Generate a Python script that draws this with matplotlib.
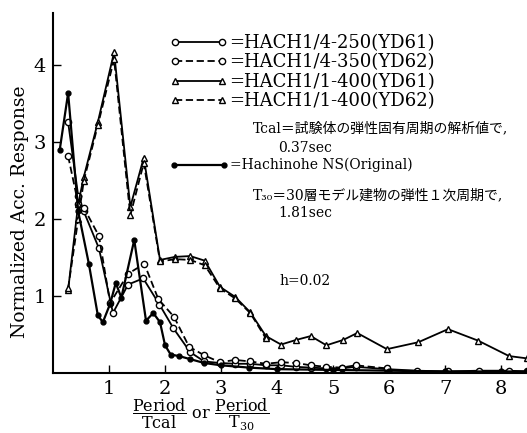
import matplotlib
matplotlib.use("Agg")
import matplotlib.pyplot as plt

plt.rcParams['font.family'] = ['DejaVu Serif', 'Noto Sans CJK JP']
plt.rcParams['mathtext.fontset'] = 'dejavuserif'

# Hachinohe NS (Original)
x_hachi = [0.12, 0.27, 0.45, 0.64, 0.80, 0.89, 1.02, 1.12, 1.22, 1.45, 1.66, 1.79, 1.91,
           2.00, 2.10, 2.25, 2.45, 2.70, 3.00, 3.50, 4.00, 5.00, 6.00, 7.00, 8.00, 8.46]
y_hachi = [2.90, 3.64, 2.10, 1.42, 0.75, 0.66, 0.90, 1.17, 0.98, 1.73, 0.68, 0.78, 0.66,
           0.36, 0.24, 0.22, 0.18, 0.13, 0.10, 0.07, 0.05, 0.04, 0.03, 0.02, 0.02, 0.02]

# HACH1/4-250 (YD61)
x_250 = [0.27, 0.45, 0.55, 0.82, 1.07, 1.34, 1.61, 1.90, 2.15, 2.45, 2.70, 2.98, 3.25,
         3.52, 3.80, 4.07, 4.34, 4.60, 4.88, 5.15, 5.40, 5.96, 6.50, 7.05, 7.60, 8.13, 8.46]
y_250 = [3.26, 2.30, 2.10, 1.62, 0.78, 1.15, 1.23, 0.89, 0.58, 0.27, 0.15, 0.13, 0.12,
         0.12, 0.10, 0.10, 0.08, 0.07, 0.06, 0.06, 0.08, 0.05, 0.03, 0.02, 0.03, 0.03, 0.02]

# HACH1/4-350 (YD62)
x_350 = [0.27, 0.45, 0.55, 0.82, 1.02, 1.34, 1.63, 1.88, 2.16, 2.43, 2.70, 2.98, 3.25,
         3.52, 3.80, 4.07, 4.34, 4.60, 4.88, 5.15, 5.40, 5.96]
y_350 = [2.82, 2.20, 2.15, 1.78, 0.91, 1.29, 1.42, 0.96, 0.73, 0.34, 0.23, 0.14, 0.17,
         0.15, 0.12, 0.14, 0.13, 0.10, 0.08, 0.07, 0.10, 0.06]

# HACH1/1-400 (YD61)
x_400a = [0.27, 0.45, 0.55, 0.80, 1.09, 1.38, 1.62, 1.91, 2.18, 2.45, 2.71, 2.98, 3.25,
          3.52, 3.80, 4.07, 4.34, 4.60, 4.88, 5.18, 5.43, 5.96, 6.52, 7.05, 7.59, 8.14, 8.46]
y_400a = [1.08, 2.20, 2.55, 3.26, 4.17, 2.16, 2.80, 1.47, 1.51, 1.52, 1.46, 1.12, 0.99,
          0.79, 0.48, 0.37, 0.43, 0.48, 0.36, 0.43, 0.52, 0.31, 0.40, 0.57, 0.42, 0.22, 0.19]

# HACH1/1-400 (YD62)
x_400b = [0.27, 0.45, 0.55, 0.80, 1.09, 1.38, 1.62, 1.91, 2.18, 2.45, 2.71, 2.98, 3.25,
          3.52, 3.80]
y_400b = [1.10, 2.00, 2.50, 3.22, 4.08, 2.05, 2.73, 1.45, 1.48, 1.47, 1.40, 1.10, 0.97,
          0.78, 0.45]

x_ticks = [1, 2, 3, 4, 5, 6, 7, 8]
y_ticks = [1, 2, 3, 4]

fig = plt.figure(figsize=(5.27, 4.33), dpi=100)
ax = fig.add_axes([53/527, 1 - 373/433, 474/527, 360/433])

lw = 1.3
ms = 4.5
l1, = ax.plot(x_250, y_250, '-', color='black', lw=lw, marker='o', ms=ms,
              mfc='white', mec='black', mew=1.0)
l2, = ax.plot(x_350, y_350, '--', color='black', lw=lw, marker='o', ms=ms,
              mfc='white', mec='black', mew=1.0, dashes=(4, 2))
l3, = ax.plot(x_400a, y_400a, '-', color='black', lw=lw, marker='^', ms=ms,
              mfc='white', mec='black', mew=1.0)
l4, = ax.plot(x_400b, y_400b, '--', color='black', lw=lw, marker='^', ms=ms,
              mfc='white', mec='black', mew=1.0, dashes=(4, 2))
l5, = ax.plot(x_hachi, y_hachi, '-', color='black', lw=1.6, marker='o', ms=3.5,
              mfc='black', mec='black')

ax.set_xlim(0, 8.46)
ax.set_ylim(0, 4.68)
ax.set_xticks(x_ticks)
ax.set_yticks(y_ticks)
ax.tick_params(direction='in', length=6, width=1.0, labelsize=14, pad=5)
ax.spines['top'].set_visible(False)
ax.spines['right'].set_visible(False)
for s in ['left', 'bottom']:
    ax.spines[s].set_linewidth(1.5)

ax.set_ylabel('Normalized Acc. Response', fontsize=13.5)
ax.yaxis.set_label_coords(-0.051, 0.447)
ax.set_xlabel(r'$\dfrac{\mathrm{Period}}{\mathrm{Tcal}}$ or $\dfrac{\mathrm{Period}}{\mathrm{T}_{30}}$',
              fontsize=11.5)
ax.xaxis.set_label_coords(0.312, -0.066)

leg1 = ax.legend([l1, l2, l3, l4],
                 ['=HACH1/4-250(YD61)', '=HACH1/4-350(YD62)',
                  '=HACH1/1-400(YD61)', '=HACH1/1-400(YD62)'],
                 loc='upper left', bbox_to_anchor=(170/527, 1 - 34/433),
                 bbox_transform=fig.transFigure, frameon=False, numpoints=2,
                 handlelength=3.2, handletextpad=0.1, labelspacing=0.08,
                 borderaxespad=0, borderpad=0, prop={'size': 13})
ax.add_artist(leg1)
leg2 = ax.legend([l5], ['=Hachinohe NS(Original)'],
                 loc='upper left', bbox_to_anchor=(170/527, 1 - 158/433),
                 bbox_transform=fig.transFigure, frameon=False, numpoints=2,
                 handlelength=4.2, handletextpad=0.15,
                 borderaxespad=0, borderpad=0, prop={'size': 10})

tfam = ['DejaVu Serif', 'Noto Sans CJK JP']
fig.text(253/527, 1 - 128/433, 'Tcal＝試験体の弾性固有周期の解析値で,', fontsize=10,
         va='center', ha='left', family=tfam)
fig.text(278/527, 1 - 148/433, '0.37sec', fontsize=10, va='center', ha='left', family=tfam)
fig.text(253/527, 1 - 195/433, 'T₃₀＝30層モデル建物の弾性１次周期で,', fontsize=10,
         va='center', ha='left', family=tfam)
fig.text(278/527, 1 - 213/433, '1.81sec', fontsize=10, va='center', ha='left', family=tfam)
ax.text(4.5, 1.2, 'h=0.02', fontsize=10, va='center', ha='center', family=tfam)

fig.savefig('out.png', dpi=100)
